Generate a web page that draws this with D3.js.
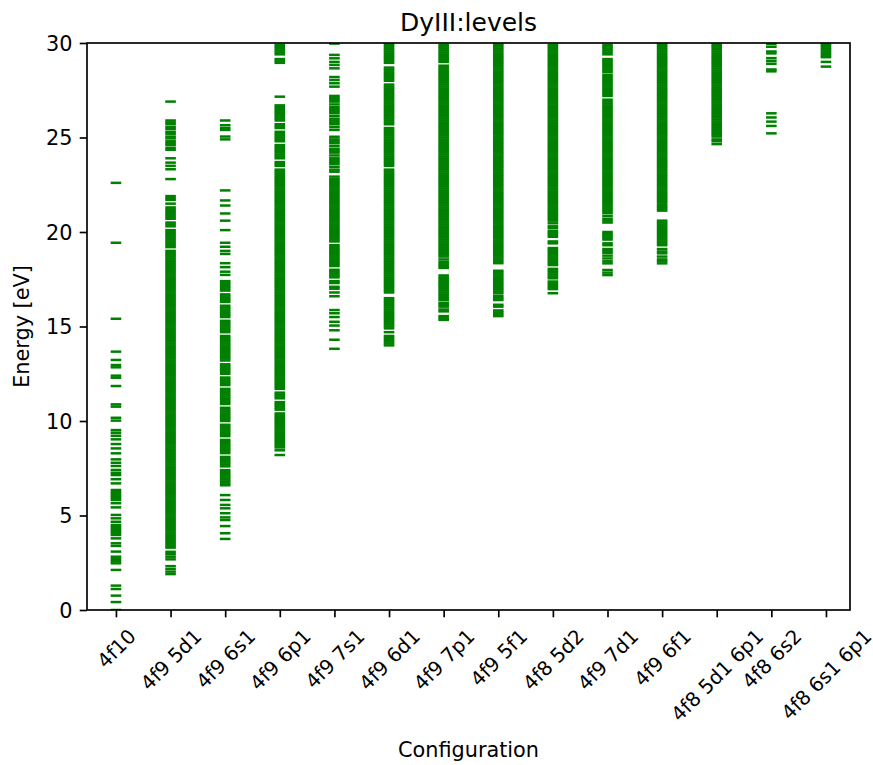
<!DOCTYPE html>
<html>
<head>
<meta charset="utf-8">
<script src="https://cdn.jsdelivr.net/npm/d3@7"></script>
<style>
body { margin: 0; background: #fff; }
svg text { font-family: "DejaVu Sans", sans-serif; fill: #000; }
</style>
</head>
<body>
<svg id="chart" width="873" height="765"></svg>
<script>
// configurations along x
const configs = ["4f10", "4f9 5d1", "4f9 6s1", "4f9 6p1", "4f9 7s1", "4f9 6d1", "4f9 7p1",
  "4f9 5f1", "4f8 5d2", "4f9 7d1", "4f9 6f1", "4f8 5d1 6p1", "4f8 6s2", "4f8 6s1 6p1"];
const yTicks = [0, 5, 10, 15, 20, 25, 30];

// level energies in eV (dense bands read at ~0.1 eV)
const lv_4f10 = [0, 0.42, 0.76, 1.11, 1.29, 2.12, 2.47, 2.58, 2.7, 2.82, 3.09, 3.39, 3.53, 3.79, 3.97, 4.08, 4.18, 4.28, 4.39, 4.5,
  4.67, 4.85, 5.03, 5.43, 5.65, 5.82, 5.93, 6.03, 6.14, 6.24, 6.35, 6.7, 6.92, 7.14, 7.26, 7.41, 7.62, 7.79, 7.97, 8.29,
  8.55, 8.78, 9.03, 9.22, 9.38, 9.52, 10.02, 10.17, 10.76, 10.88, 11.85, 12.29, 12.4, 12.84, 12.96, 13.23, 13.67, 15.41, 19.43, 22.6];

const lv_4f9_5d1 = [1.9, 2.03, 2.17, 2.32, 2.68, 2.82, 2.95, 3.08,
  3.3, 3.4, 3.5, 3.6, 3.7, 3.8, 3.9, 4.0, 4.1, 4.2, 4.3, 4.4, 4.5, 4.6, 4.7, 4.8, 4.9,
  5.0, 5.1, 5.2, 5.3, 5.4, 5.5, 5.6, 5.7, 5.8, 5.9, 6.0, 6.1, 6.2, 6.3, 6.4, 6.5, 6.6, 6.7, 6.8, 6.9,
  7.0, 7.1, 7.2, 7.3, 7.4, 7.5, 7.6, 7.7, 7.8, 7.9, 8.0, 8.1, 8.2, 8.3, 8.4, 8.5, 8.6, 8.7, 8.8, 8.9,
  9.0, 9.1, 9.2, 9.3, 9.4, 9.5, 9.6, 9.7, 9.8, 9.9, 10.0, 10.1, 10.2, 10.3, 10.4, 10.5, 10.6, 10.7, 10.8, 10.9,
  11.0, 11.1, 11.2, 11.3, 11.4, 11.5, 11.6, 11.7, 11.8, 11.9, 12.0, 12.1, 12.2, 12.3, 12.4, 12.5, 12.6, 12.7, 12.8, 12.9,
  13.0, 13.1, 13.2, 13.3, 13.4, 13.5, 13.6, 13.7, 13.8, 13.9, 14.0, 14.1, 14.2, 14.3, 14.4, 14.5, 14.6, 14.7, 14.8, 14.9,
  15.0, 15.1, 15.2, 15.3, 15.4, 15.5, 15.6, 15.7, 15.8, 15.9, 16.0, 16.1, 16.2, 16.3, 16.4, 16.5, 16.6, 16.7, 16.8, 16.9,
  17.0, 17.1, 17.2, 17.3, 17.4, 17.5, 17.6, 17.7, 17.8, 17.9, 18.0, 18.1, 18.2, 18.3, 18.4, 18.5, 18.6, 18.7, 18.8, 18.9, 19.0,
  19.2, 19.3, 19.4, 19.5, 19.6, 19.7, 19.8, 19.9, 20.0, 20.1, 20.3, 20.4, 20.5, 20.7, 20.8, 20.9, 21.0, 21.1, 21.2, 21.3,
  21.5, 21.7, 21.8, 21.9, 22.8, 23.32, 23.5, 23.67, 23.9, 24.35, 24.45, 24.6, 24.7, 24.8, 24.95, 25.05, 25.2, 25.3, 25.45,
  25.55, 25.7, 25.8, 25.9, 26.9];

const lv_4f9_6s1 = [3.76, 4.06, 4.44, 4.76, 4.9, 5.12, 5.38, 5.56, 5.82, 6.08,
  6.6, 6.7, 6.8, 6.9, 7.0, 7.1, 7.2, 7.3, 7.4, 7.6, 7.7, 7.8, 7.9, 8.0, 8.1, 8.3, 8.4, 8.5, 8.6, 8.7, 8.8, 8.9, 9.0,
  9.2, 9.3, 9.4, 9.5, 9.6, 9.7, 9.8, 10.0, 10.1, 10.2, 10.3, 10.4, 10.5, 10.6, 10.7, 10.9, 11.0, 11.1, 11.2, 11.3, 11.4,
  11.5, 11.6, 11.7, 11.9, 12.0, 12.1, 12.2, 12.3, 12.5, 12.6, 12.7, 12.8, 12.9, 13.0, 13.2, 13.3, 13.4, 13.5, 13.6, 13.7,
  13.8, 13.9, 14.0, 14.1, 14.2, 14.3, 14.4, 14.5, 14.7, 14.8, 14.9, 15.0, 15.1, 15.2, 15.3, 15.5, 15.6, 15.7, 15.8, 15.9,
  16.0, 16.1, 16.3, 16.4, 16.5, 16.6, 16.7, 16.9, 17.0, 17.1, 17.2, 17.3, 17.4,
  17.73, 17.9, 18.14, 18.35, 18.84, 19.0, 19.22, 19.43, 20.1, 20.6, 20.98, 21.4, 21.67, 22.2, 24.9, 25.05, 25.4, 25.5, 25.65, 25.9];

const lv_4f9_6p1 = [8.2, 8.45, 8.6, 8.7, 8.8, 8.9, 9.0, 9.1, 9.2, 9.3, 9.4, 9.5, 9.6, 9.7, 9.8, 9.9,
  10.0, 10.1, 10.2, 10.3, 10.4, 10.6, 10.7, 10.8, 10.9, 11.0, 11.2, 11.3, 11.4, 11.5, 11.7, 11.8, 11.9,
  12.0, 12.1, 12.2, 12.3, 12.4, 12.5, 12.6, 12.7, 12.8, 12.9, 13.0, 13.1, 13.2, 13.3, 13.4, 13.5, 13.6, 13.7, 13.8, 13.9,
  14.0, 14.1, 14.2, 14.3, 14.4, 14.5, 14.6, 14.7, 14.8, 14.9, 15.0, 15.1, 15.2, 15.3, 15.4, 15.5, 15.6, 15.7, 15.8, 15.9,
  16.0, 16.1, 16.2, 16.3, 16.4, 16.5, 16.6, 16.7, 16.8, 16.9, 17.0, 17.1, 17.2, 17.3, 17.4, 17.5, 17.6, 17.7, 17.8, 17.9,
  18.0, 18.1, 18.2, 18.3, 18.4, 18.5, 18.6, 18.7, 18.8, 18.9, 19.0, 19.1, 19.2, 19.3, 19.4, 19.5, 19.6, 19.7, 19.8, 19.9,
  20.0, 20.1, 20.2, 20.3, 20.4, 20.5, 20.6, 20.7, 20.8, 20.9, 21.0, 21.1, 21.2, 21.3, 21.4, 21.5, 21.6, 21.7, 21.8, 21.9,
  22.0, 22.1, 22.2, 22.3, 22.4, 22.5, 22.6, 22.7, 22.8, 22.9, 23.0, 23.1, 23.2, 23.3, 23.5, 23.6, 23.7, 23.9,
  24.0, 24.1, 24.2, 24.3, 24.4, 24.5, 24.6, 24.8, 24.9, 25.0, 25.1, 25.2, 25.3, 25.5, 25.6, 25.7, 25.9,
  26.0, 26.1, 26.2, 26.3, 26.4, 26.5, 26.6, 26.7, 27.16, 28.95, 29.05, 29.15, 29.4, 29.5, 29.6, 29.7, 29.8, 29.9];

const lv_4f9_7s1 = [13.82, 14.3, 14.8, 15.05, 15.25, 15.5, 15.7, 15.87, 16.6,
  16.8, 17.0, 17.1, 17.3, 17.4, 17.6, 17.7, 17.8, 17.9, 18.0, 18.2, 18.3, 18.4, 18.5, 18.6, 18.7, 18.8, 18.9,
  19.0, 19.1, 19.2, 19.3, 19.5, 19.6, 19.7, 19.8, 19.9, 20.0, 20.1, 20.2, 20.3, 20.4, 20.5, 20.6, 20.7, 20.8, 20.9,
  21.0, 21.1, 21.2, 21.3, 21.4, 21.5, 21.6, 21.7, 21.8, 21.9, 22.0, 22.1, 22.2, 22.3, 22.4, 22.5, 22.6, 22.7, 22.8, 22.93,
  23.19, 23.3, 23.45, 23.6, 23.7, 23.8, 23.9, 24.05, 24.2, 24.3, 24.4, 24.55, 24.7, 24.8, 24.9, 25.04,
  25.4, 25.55, 25.7, 25.8, 25.9, 26.0, 26.15, 26.3, 26.4, 26.5, 26.6, 26.75, 26.9, 27.0, 27.1, 27.2,
  27.69, 27.87, 28.04, 28.2, 28.66, 28.84, 29.0, 29.19, 29.37, 29.97];

const lv_4f9_6d1 = [14.0, 14.1, 14.2, 14.3, 14.4, 14.5, 14.7, 14.9, 15.0, 15.1, 15.2, 15.3, 15.4, 15.5, 15.6, 15.7, 15.8, 15.9,
  16.0, 16.1, 16.2, 16.3, 16.4, 16.5, 16.8, 16.9, 17.0, 17.1, 17.2, 17.3, 17.4, 17.5, 17.6, 17.7, 17.8, 17.9,
  18.0, 18.1, 18.2, 18.3, 18.4, 18.5, 18.6, 18.7, 18.8, 18.9, 19.0, 19.1, 19.2, 19.3, 19.4, 19.5, 19.6, 19.7, 19.8, 19.9,
  20.0, 20.1, 20.2, 20.3, 20.4, 20.5, 20.6, 20.7, 20.8, 20.9, 21.0, 21.1, 21.2, 21.3, 21.4, 21.5, 21.6, 21.7, 21.8, 21.9,
  22.0, 22.1, 22.2, 22.3, 22.4, 22.5, 22.6, 22.7, 22.8, 22.9, 23.0, 23.1, 23.2, 23.3, 23.5, 23.6, 23.7, 23.8, 23.9,
  24.0, 24.1, 24.2, 24.3, 24.4, 24.5, 24.6, 24.7, 24.8, 24.9, 25.0, 25.1, 25.2, 25.3, 25.4, 25.5, 25.7, 25.8, 25.9,
  26.0, 26.1, 26.2, 26.3, 26.4, 26.5, 26.6, 26.7, 26.8, 26.9, 27.0, 27.1, 27.2, 27.3, 27.4, 27.5, 27.6, 27.7, 27.8,
  28.0, 28.1, 28.2, 28.3, 28.4, 28.5, 28.6, 28.7, 28.95, 29.05, 29.15, 29.25, 29.35, 29.45, 29.55, 29.65, 29.75, 29.85, 29.95];

const lv_4f9_7p1 = [15.35, 15.45, 15.55, 15.8, 15.9, 16.05, 16.15, 16.25, 16.4, 16.5, 16.6, 16.7, 16.8, 16.9,
  17.0, 17.1, 17.2, 17.3, 17.4, 17.5, 17.6, 17.7, 18.1, 18.2, 18.3, 18.42, 18.55, 18.7, 18.8, 18.9,
  19.0, 19.1, 19.2, 19.3, 19.4, 19.5, 19.6, 19.7, 19.8, 19.9, 20.0, 20.1, 20.2, 20.3, 20.4, 20.5, 20.6, 20.7, 20.8, 20.9,
  21.0, 21.1, 21.2, 21.3, 21.4, 21.5, 21.6, 21.7, 21.8, 21.9, 22.0, 22.1, 22.2, 22.3, 22.4, 22.5, 22.6, 22.7, 22.8, 22.9,
  23.0, 23.1, 23.2, 23.3, 23.4, 23.5, 23.6, 23.7, 23.8, 23.9, 24.0, 24.1, 24.2, 24.3, 24.4, 24.5, 24.6, 24.7, 24.8, 24.9,
  25.0, 25.1, 25.2, 25.3, 25.4, 25.5, 25.6, 25.7, 25.8, 25.9, 26.0, 26.1, 26.2, 26.3, 26.4, 26.5, 26.6, 26.7, 26.8, 26.9,
  27.0, 27.1, 27.2, 27.3, 27.4, 27.5, 27.6, 27.7, 27.8, 27.9, 28.0, 28.1, 28.2, 28.3, 28.4, 28.5, 28.6, 28.7, 28.8,
  29.0, 29.1, 29.2, 29.3, 29.4, 29.5, 29.6, 29.7, 29.8, 29.9];

const lv_4f9_5f1 = [15.55, 15.65, 15.75, 15.85, 16.05, 16.15, 16.4, 16.5, 16.6, 16.75, 16.85, 16.95, 17.05, 17.15, 17.25,
  17.35, 17.45, 17.55, 17.65, 17.75, 17.85, 17.95, 18.35, 18.45, 18.55, 18.65, 18.75, 18.85, 18.95,
  19.05, 19.15, 19.25, 19.35, 19.45, 19.55, 19.65, 19.75, 19.85, 19.95, 20.05, 20.15, 20.25, 20.35, 20.45, 20.55, 20.65,
  20.75, 20.85, 20.95, 21.05, 21.15, 21.25, 21.35, 21.45, 21.55, 21.65, 21.75, 21.85, 21.95, 22.05, 22.15, 22.25, 22.35,
  22.45, 22.55, 22.65, 22.75, 22.85, 22.95, 23.05, 23.15, 23.25, 23.35, 23.45, 23.55, 23.65, 23.75, 23.85, 23.95,
  24.05, 24.15, 24.25, 24.35, 24.45, 24.55, 24.65, 24.75, 24.85, 24.95, 25.05, 25.15, 25.25, 25.35, 25.45, 25.55, 25.65,
  25.75, 25.85, 25.95, 26.05, 26.15, 26.25, 26.35, 26.45, 26.55, 26.65, 26.75, 26.85, 26.95, 27.05, 27.15, 27.25, 27.35,
  27.45, 27.55, 27.65, 27.75, 27.85, 27.95, 28.05, 28.15, 28.25, 28.35, 28.45, 28.55, 28.65, 28.75, 28.85, 28.95,
  29.05, 29.15, 29.25, 29.35, 29.45, 29.55, 29.65, 29.75, 29.85, 29.95];

const lv_4f8_5d2 = [16.76, 16.98, 17.08, 17.18, 17.28, 17.38, 17.55, 17.65, 17.75, 17.85, 17.95, 18.05, 18.25, 18.35,
  18.45, 18.55, 18.65, 18.75, 18.85, 18.95, 19.05, 19.15, 19.4, 19.5, 19.75, 19.85, 19.95, 20.05, 20.2, 20.3, 20.46,
  20.6, 20.7, 20.8, 20.9, 21.0, 21.1, 21.2, 21.3, 21.4, 21.5, 21.6, 21.7, 21.8, 21.9, 22.0, 22.1, 22.2, 22.3, 22.4, 22.5,
  22.6, 22.7, 22.8, 22.9, 23.0, 23.1, 23.2, 23.3, 23.4, 23.5, 23.6, 23.7, 23.8, 23.9, 24.0, 24.1, 24.2, 24.3, 24.4, 24.5,
  24.6, 24.7, 24.8, 24.9, 25.0, 25.1, 25.2, 25.3, 25.4, 25.5, 25.6, 25.7, 25.8, 25.9, 26.0, 26.1, 26.2, 26.3, 26.4, 26.5,
  26.6, 26.7, 26.8, 26.9, 27.0, 27.1, 27.2, 27.3, 27.4, 27.5, 27.6, 27.7, 27.8, 27.9, 28.0, 28.1, 28.2, 28.3, 28.4, 28.5,
  28.6, 28.7, 28.8, 28.9, 29.0, 29.1, 29.2, 29.3, 29.4, 29.5, 29.6, 29.7, 29.8, 29.9];

const lv_4f9_7d1 = [17.72, 17.85, 17.99, 18.34, 18.45, 18.6, 18.75, 18.9, 19.0, 19.1, 19.3, 19.4, 19.6, 19.7, 19.8, 19.9, 20.0,
  20.5, 20.6, 20.7, 20.85, 21.0, 21.1, 21.2, 21.3, 21.4, 21.5, 21.6, 21.7, 21.8, 21.9, 22.0, 22.1, 22.2, 22.3, 22.4, 22.5,
  22.6, 22.7, 22.8, 22.9, 23.0, 23.1, 23.2, 23.3, 23.4, 23.5, 23.6, 23.7, 23.8, 23.9, 24.0, 24.1, 24.2, 24.3, 24.4, 24.5,
  24.6, 24.7, 24.8, 24.9, 25.0, 25.1, 25.2, 25.3, 25.4, 25.5, 25.6, 25.7, 25.8, 25.9, 26.0, 26.1, 26.2, 26.3, 26.4, 26.5,
  26.6, 26.7, 26.8, 26.9, 27.0, 27.2, 27.3, 27.4, 27.5, 27.6, 27.7, 27.8, 27.9, 28.0, 28.1, 28.2, 28.3,
  28.45, 28.55, 28.65, 28.75, 28.85, 28.95, 29.05, 29.15, 29.4, 29.5, 29.6, 29.7, 29.8, 29.9];

const lv_4f9_6f1 = [18.34, 18.45, 18.55, 18.7, 18.87, 18.97, 19.1, 19.3, 19.4, 19.5, 19.6, 19.7, 19.8, 19.9,
  20.0, 20.1, 20.2, 20.3, 20.4, 20.5, 20.6, 21.13, 21.23, 21.33, 21.43, 21.55, 21.65, 21.75, 21.85, 21.95,
  22.05, 22.15, 22.25, 22.35, 22.45, 22.55, 22.65, 22.75, 22.85, 22.95, 23.05, 23.15, 23.25, 23.35, 23.45, 23.55, 23.65,
  23.75, 23.85, 23.95, 24.05, 24.15, 24.25, 24.35, 24.45, 24.55, 24.65, 24.75, 24.85, 24.95, 25.05, 25.15, 25.25, 25.35,
  25.45, 25.55, 25.65, 25.75, 25.85, 25.95, 26.05, 26.15, 26.25, 26.35, 26.45, 26.55, 26.65, 26.75, 26.85, 26.95,
  27.05, 27.15, 27.25, 27.35, 27.45, 27.55, 27.65, 27.75, 27.85, 27.95, 28.05, 28.15, 28.25, 28.35, 28.45, 28.55, 28.65,
  28.75, 28.85, 28.95, 29.05, 29.15, 29.25, 29.35, 29.45, 29.55, 29.65, 29.75, 29.85, 29.95];

const lv_4f8_5d1_6p1 = [24.65, 24.8, 24.9, 25.05, 25.15, 25.25, 25.35, 25.45, 25.55, 25.65, 25.75, 25.85, 25.95,
  26.05, 26.15, 26.25, 26.35, 26.45, 26.55, 26.65, 26.75, 26.85, 26.95, 27.05, 27.15, 27.25, 27.35, 27.45, 27.55, 27.65,
  27.75, 27.85, 27.95, 28.05, 28.15, 28.25, 28.35, 28.45, 28.55, 28.65, 28.75, 28.85, 28.95, 29.05, 29.15, 29.25, 29.35,
  29.45, 29.55, 29.65, 29.75, 29.85, 29.95];

const lv_4f8_6s2 = [25.22, 25.61, 25.84, 26.06, 26.28, 28.5, 28.6, 28.9, 29.05, 29.2, 29.45, 29.55, 29.8, 29.95];

const lv_4f8_6s1_6p1 = [28.75, 29.0, 29.25, 29.35, 29.45, 29.55, 29.65, 29.75, 29.85, 29.95];

const levels = [lv_4f10, lv_4f9_5d1, lv_4f9_6s1, lv_4f9_6p1, lv_4f9_7s1, lv_4f9_6d1, lv_4f9_7p1,
  lv_4f9_5f1, lv_4f8_5d2, lv_4f9_7d1, lv_4f9_6f1, lv_4f8_5d1_6p1, lv_4f8_6s2, lv_4f8_6s1_6p1];

// layout
const svg = d3.select('#chart');
const plotLeft = 87, plotRight = 850, plotTop = 43, plotBottom = 610;
const tickLen = 7.3, tickPad = 7.3, fontSize = 20.8, xFontSize = 19.8;

const x = d3.scaleLinear().domain([-0.53, 13.44]).range([plotLeft, plotRight]);
const y = d3.scaleLinear().domain([0, 30]).range([plotBottom, plotTop]);

svg.append('defs').append('clipPath').attr('id', 'clip')
  .append('rect')
  .attr('x', plotLeft).attr('y', plotTop)
  .attr('width', plotRight - plotLeft).attr('height', plotBottom - plotTop);

// one flat list of marks
let points = [];
levels.forEach((arr, i) => {
  arr.forEach(v => points.push({ i: i, v: v }));
});

const markHalf = 5.3;
svg.append('g').attr('clip-path', 'url(#clip)')
  .selectAll('line.lv')
  .data(points)
  .join('line')
  .attr('class', 'lv')
  .attr('x1', d => x(d.i) - markHalf)
  .attr('x2', d => x(d.i) + markHalf)
  .attr('y1', d => y(d.v))
  .attr('y2', d => y(d.v))
  .attr('stroke', 'green')
  .attr('stroke-width', 2.5);

// y axis
const yAxis = svg.append('g')
  .attr('transform', `translate(${plotLeft},0)`)
  .call(d3.axisLeft(y).tickValues(yTicks).tickSize(tickLen).tickPadding(tickPad));
yAxis.select('.domain').remove();
yAxis.selectAll('.tick line').attr('stroke', '#000').attr('stroke-width', 1.67);
yAxis.selectAll('.tick text')
  .attr('font-size', fontSize).attr('font-family', '"DejaVu Sans", sans-serif')
  .attr('dy', '0.35em');

// x axis
const xAxis = svg.append('g')
  .attr('transform', `translate(0,${plotBottom})`)
  .call(d3.axisBottom(x).tickValues(d3.range(configs.length)).tickFormat(i => configs[i])
    .tickSize(tickLen).tickPadding(tickPad));
xAxis.select('.domain').remove();
xAxis.selectAll('.tick line').attr('stroke', '#000').attr('stroke-width', 1.67);
xAxis.selectAll('.tick text')
  .attr('font-size', xFontSize).attr('font-family', '"DejaVu Sans", sans-serif')
  .attr('text-anchor', 'middle')
  .attr('y', null)
  .attr('dy', '0.346em')
  .attr('transform', function () {
    // rotated 45 deg, bbox centred on tick, top at tick + pad
    const w = this.getComputedTextLength();
    const h = xFontSize * 1.164;
    const side = (w + h) * Math.SQRT1_2;
    return `translate(0,${tickLen + tickPad + side / 2}) rotate(-45)`;
  });

// spines
svg.append('rect')
  .attr('x', plotLeft).attr('y', plotTop)
  .attr('width', plotRight - plotLeft).attr('height', plotBottom - plotTop)
  .attr('fill', 'none').attr('stroke', '#000').attr('stroke-width', 1.67);

// titles
svg.append('text')
  .attr('x', (plotLeft + plotRight) / 2).attr('y', 31)
  .attr('text-anchor', 'middle').attr('font-size', 25)
  .text('DyIII:levels');

svg.append('text')
  .attr('x', (plotLeft + plotRight) / 2).attr('y', 757)
  .attr('text-anchor', 'middle').attr('font-size', fontSize)
  .text('Configuration');

svg.append('text')
  .attr('transform', `translate(29,${(plotTop + plotBottom) / 2}) rotate(-90)`)
  .attr('text-anchor', 'middle').attr('font-size', fontSize)
  .text('Energy [eV]');
</script>
</body>
</html>
